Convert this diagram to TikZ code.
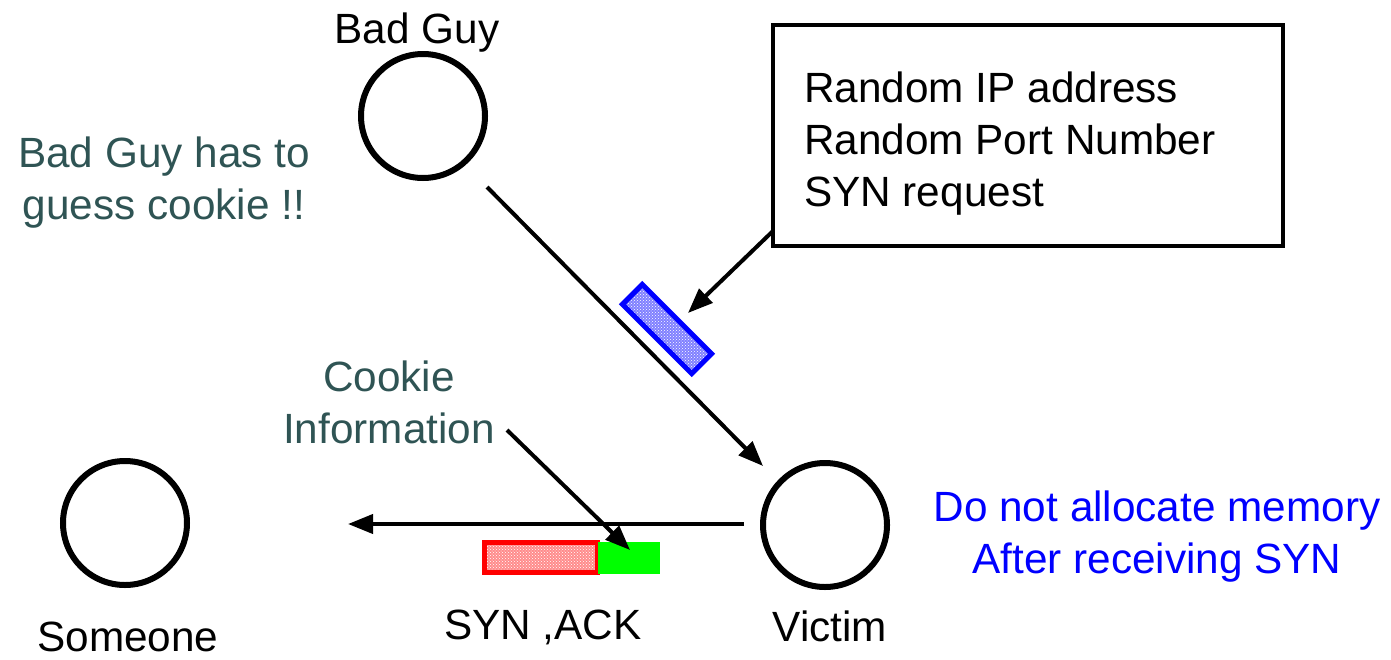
\documentclass[tikz,border=0pt]{standalone}
\usepackage{fontspec}
\setmainfont{Liberation Sans}
\usetikzlibrary{arrows.meta,patterns}
\definecolor{slate}{RGB}{47,84,84}
\definecolor{pureblue}{RGB}{0,0,255}
\definecolor{puregreen}{RGB}{0,255,0}
\tikzset{
  big/.style={font=\fontsize{42.3}{52}\selectfont},
  host/.style={circle, draw, line width=6pt, minimum size=124pt, inner sep=0pt},
  label/.style={big, inner sep=0pt, align=center},
  conn/.style={line width=4pt, -{Triangle[length=25pt,width=19pt]}},
  dotted packet/.style 2 args={inner sep=0pt, fill=#2,
      postaction={pattern=crosshatch dots, pattern color=white},
      postaction={draw=#1, line width=5pt}},
}
\begin{document}
\begin{tikzpicture}[x=1pt, y=-1pt]
\useasboundingbox (0,0) rectangle (1391,659);

% hosts
\node[host] (bad) at (423,116) {};
\node[host] (victim) at (825,525) {};
\node[host] (someone) at (125,523) {};

\node[label] (badlbl) at (417,33) {Bad Guy};
\node[label] (victimlbl) at (830,626) {Victim};
\node[label] (someonelbl) at (128,637) {Someone};

% spoofed request description
\node[draw, line width=4pt, minimum width=510pt, minimum height=221pt,
      inner sep=0pt] (info) at (1028,135.5) {};
\node[big, align=left, inner sep=0pt, anchor=west] (infotext) at (804,144)
  {Random IP address\\Random Port Number\\SYN request};

% SYN packet
\node[dotted packet={pureblue}{blue!50!white}, minimum width=98pt,
      minimum height=28pt, rotate=-45] (syn) at (667,329) {};

% SYN,ACK packet
\node[dotted packet={red}{red!45!white},
      minimum width=113pt, minimum height=30pt] (ack) at (541,557.5) {};
\node[fill=puregreen, minimum width=62pt, minimum height=32pt, inner sep=0pt,
      anchor=west] (cookie) at (598,557.5) {};

\node[label] (acklbl) at (543,627) {SYN ,ACK};

% annotations
\node[label, text=slate] (guess) at (164,183) {Bad Guy has to\\ guess cookie !!};
\node[label, text=slate] (cinfo) at (389,402) {Cookie\\Information};
\node[label, text=pureblue] (nomem) at (1157,537) {Do not allocate memory\\After receiving SYN};

% free ends of the connectors
\coordinate (reqstart) at (773,231);
\coordinate (ackstart) at (744,524);
\coordinate (ackend) at (348,524);
\coordinate (cstart) at (507,430);
\coordinate (cend) at (630,550);
\coordinate (synend) at (688,313);
\coordinate (badstart) at (487,187);
\coordinate (victimend) at (763,466);

% connectors
\draw[conn] (badstart) -- (victimend);
\draw[conn] (reqstart) -- (synend);
\draw[conn] (ackstart) -- (ackend);
\draw[conn] (cstart) -- (cend);
\end{tikzpicture}
\end{document}
